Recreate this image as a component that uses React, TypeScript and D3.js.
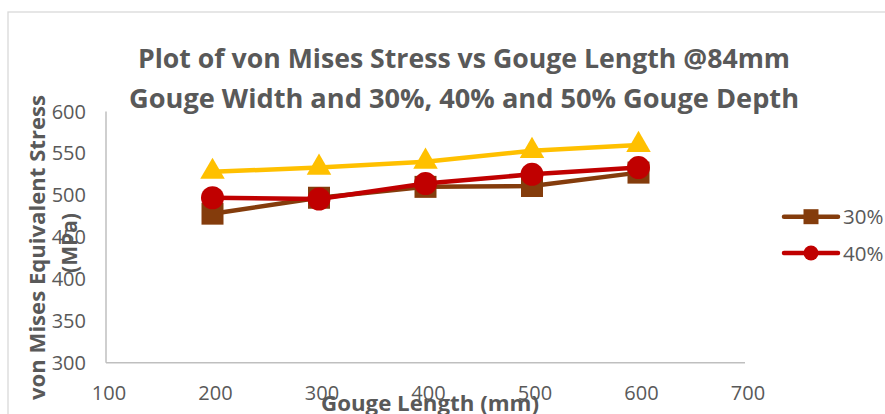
import React from "react";
import * as d3 from "d3";

const gougeLengths = [200, 300, 400, 500, 600];
const stress30 = [478, 497, 510, 511, 527];
const stress40 = [497, 495.5, 514, 525, 533];
const stress50 = [528, 533, 540, 553, 560];
const xTicks = [100, 200, 300, 400, 500, 600, 700];
const yTicks = [300, 350, 400, 450, 500, 550, 600];
const titleLines = [
  "Plot of von Mises Stress vs Gouge Length @84mm",
  "Gouge Width and 30%, 40% and 50% Gouge Depth",
];

const series = [
  { name: "30%", values: stress30, color: "#843C0C", symbol: d3.symbolSquare, legend: true },
  { name: "40%", values: stress40, color: "#C00000", symbol: d3.symbolCircle, legend: true },
  { name: "50%", values: stress50, color: "#FFC000", symbol: d3.symbolTriangle, legend: false },
];

const FONT = "'Open Sans', 'DejaVu Sans', sans-serif";
const GRAY = "#595959";

export default function App() {
  const x = d3.scaleLinear().domain([100, 700]).range([106, 745]);
  const y = d3.scaleLinear().domain([300, 600]).range([362.7, 111.5]);
  const line = d3
    .line<number>()
    .x((_, i) => x(gougeLengths[i]))
    .y((v) => y(v));

  const markerSize: Record<string, number> = { "30%": 22 * 22, "40%": Math.PI * 11.5 * 11.5, "50%": 260 };
  const legendSize: Record<string, number> = { "30%": 15 * 15, "40%": Math.PI * 7.5 * 7.5 };

  return (
    <svg
      width={885}
      height={414}
      style={{ position: "absolute", left: 0, top: 0, background: "#fff" }}
      fontFamily={FONT}
    >
      <rect x={8} y={12} width={900} height={420} fill="#fff" stroke="#D9D9D9" strokeWidth={1.3} />

      {/* Title */}
      {titleLines.map((t, i) => (
        <text
          key={i}
          x={464}
          y={68 + i * 40}
          textAnchor="middle"
          fontSize={27}
          fontWeight="bold"
          fill={GRAY}
          textLength={i === 0 ? 652 : 670}
          lengthAdjust="spacingAndGlyphs"
        >
          {t}
        </text>
      ))}

      {/* Axes */}
      <line x1={x(100)} x2={x(700)} y1={y(300)} y2={y(300)} stroke="#BFBFBF" strokeWidth={1.5} />
      <line x1={x(100)} x2={x(100)} y1={y(300)} y2={y(600)} stroke="#BFBFBF" strokeWidth={1.5} />

      {yTicks.map((t) => (
        <text key={t} x={86} y={y(t) + 7} textAnchor="end" fontSize={20} fill={GRAY}>
          {t}
        </text>
      ))}
      {xTicks.map((t) => (
        <text key={t} x={x(t) + 3} y={400} textAnchor="middle" fontSize={20} fill={GRAY}>
          {t}
        </text>
      ))}

      {/* Axis titles */}
      <text
        transform="translate(45,247.5) rotate(-90)"
        textAnchor="middle"
        fontSize={21}
        fontWeight="bold"
        fill={GRAY}
        textLength={305}
        lengthAdjust="spacingAndGlyphs"
      >
        von Mises Equivalent Stress
      </text>
      <text
        transform="translate(77,243) rotate(-90)"
        textAnchor="middle"
        fontSize={21}
        fontWeight="bold"
        fill={GRAY}
      >
        (MPa)
      </text>
      <text
        x={430}
        y={411}
        textAnchor="middle"
        fontSize={21}
        fontWeight="bold"
        fill={GRAY}
        textLength={218}
        lengthAdjust="spacingAndGlyphs"
      >
        Gouge Length (mm)
      </text>

      {/* Series */}
      {series.map((s) => (
        <g key={s.name}>
          <path d={line(s.values) || ""} fill="none" stroke={s.color} strokeWidth={4.5} strokeLinejoin="round" />
          {s.values.map((v, i) => (
            <path
              key={i}
              transform={`translate(${x(gougeLengths[i])},${y(v)})`}
              d={d3.symbol().type(s.symbol).size(markerSize[s.name])() || ""}
              fill={s.color}
            />
          ))}
        </g>
      ))}

      {/* Legend */}
      {series
        .filter((s) => s.legend)
        .map((s, i) => {
          const ly = 216.7 + i * 36.3;
          return (
            <g key={s.name}>
              <line x1={784} x2={838} y1={ly} y2={ly} stroke={s.color} strokeWidth={4.5} strokeLinecap="round" />
              <path
                transform={`translate(811,${ly})`}
                d={d3.symbol().type(s.symbol).size(legendSize[s.name])() || ""}
                fill={s.color}
              />
              <text x={843} y={ly + 7.5} fontSize={20.5} fill={GRAY}>
                {s.name}
              </text>
            </g>
          );
        })}
    </svg>
  );
}
